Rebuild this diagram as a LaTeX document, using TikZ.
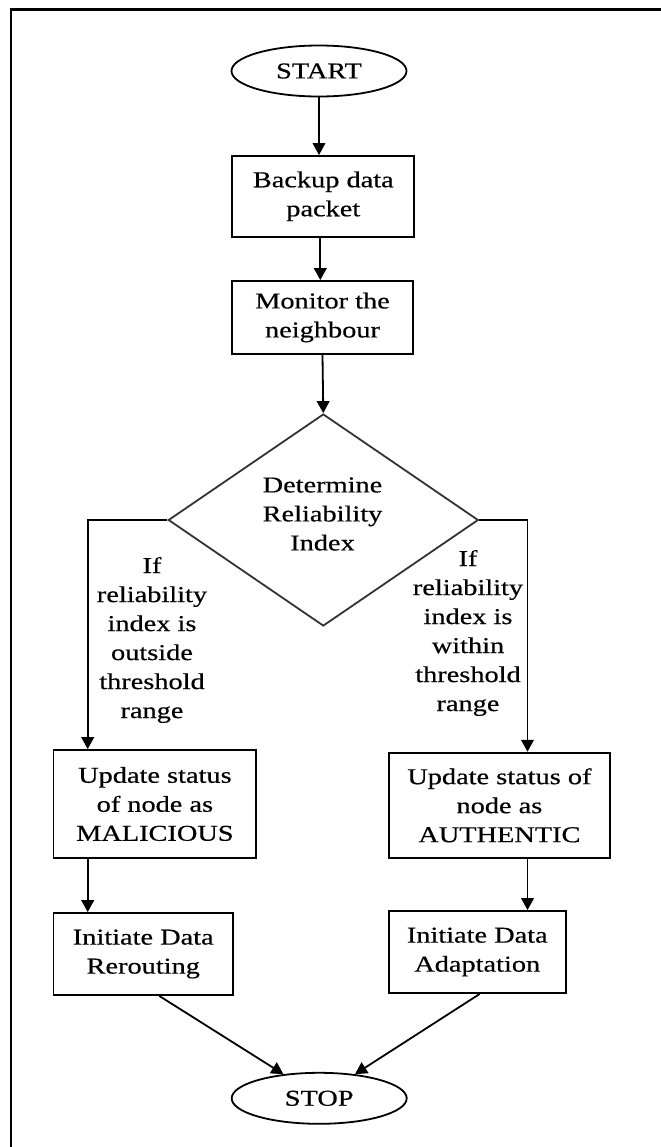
\documentclass[tikz,border=0pt]{standalone}
\usepackage{fontspec}
\setmainfont{Liberation Serif}[FakeStretch=1.25,FakeBold=0.5]
\usetikzlibrary{shapes.geometric,arrows.meta,calc}
\newdimen\pxu \pxu=0.75pt
\begin{document}
\begin{tikzpicture}[x=0.75pt,y=-0.75pt,
  every node/.style={font=\fontsize{17}{21.75}\selectfont, inner sep=0pt, align=center},
  flow/.style={line width=1.35pt, draw=black},
  terminal/.style={flow, ellipse, minimum width=175\pxu, minimum height=51\pxu},
  process/.style={flow, rectangle},
  decision/.style={flow, diamond, minimum width=310\pxu, minimum height=212\pxu, draw=black!80},
  arr/.style={line width=1.35pt, -{Triangle[length=9pt,width=9.5pt]}}
]
\useasboundingbox (0,0) rectangle (661,1147);

% page frame
\draw[line width=1.6pt] (11,1147) -- (11,9.5) -- (661,9.5);

% main column
\node[terminal] (start) at (319,71) {START};
\node[process, minimum width=182\pxu, minimum height=80.7\pxu] (backup) at (323.3,196.3) {Backup data\\packet};
\node[process, minimum width=181\pxu, minimum height=73\pxu] (monitor) at (322.5,317.5) {Monitor the\\neighbour};
\node[decision] (dec) at (323.3,520) {};
\node (dectext) at (322.5,514) {Determine\\Reliability\\Index};

% branches
\node[process, minimum width=202.8\pxu, minimum height=108\pxu] (upd1) at (154.9,804) {Update status\\of node as\\MALICIOUS};
\node[process, minimum width=221.3\pxu, minimum height=105.3\pxu] (upd2) at (499.4,805.3) {Update status of\\node as\\AUTHENTIC};
\node[process, minimum width=179.5\pxu, minimum height=82\pxu] (init1) at (143.25,954) {Initiate Data\\Rerouting};
\node[process, minimum width=177\pxu, minimum height=82\pxu] (init2) at (477.25,952) {Initiate Data\\Adaptation};
\node[terminal] (stop) at (319.2,1098.3) {STOP};

% branch conditions
\node (lab1) at (152,640) {If\\reliability\\index is\\outside\\threshold\\range};
\node (lab2) at (468,633) {If\\reliability\\index is\\within\\threshold\\range};

% connectors
\coordinate (lx) at (87.7,0);
\coordinate (rx) at (527.5,0);
\draw[arr] (start.south) -- (start.south |- backup.north);
\draw[arr] ($(backup.south)+(-3,0)$) -- ($(backup.south |- monitor.north)+(-3,0)$);
\draw[arr] (monitor.south) -- (dec.north);
\draw[arr] (dec.west) -| (upd1.north -| lx);
\draw[arr] (dec.east) -| (upd2.north -| rx);
\draw[arr] (upd1.south -| lx) -- (init1.north -| lx);
\draw[arr] (upd2.south -| rx) -- (init2.north -| rx);
\draw[arr] ($(init1.south)+(16,0)$) -- (stop.146);
\draw[arr] ($(init2.south)+(2.5,0)$) -- (stop.34);
\end{tikzpicture}
\end{document}
